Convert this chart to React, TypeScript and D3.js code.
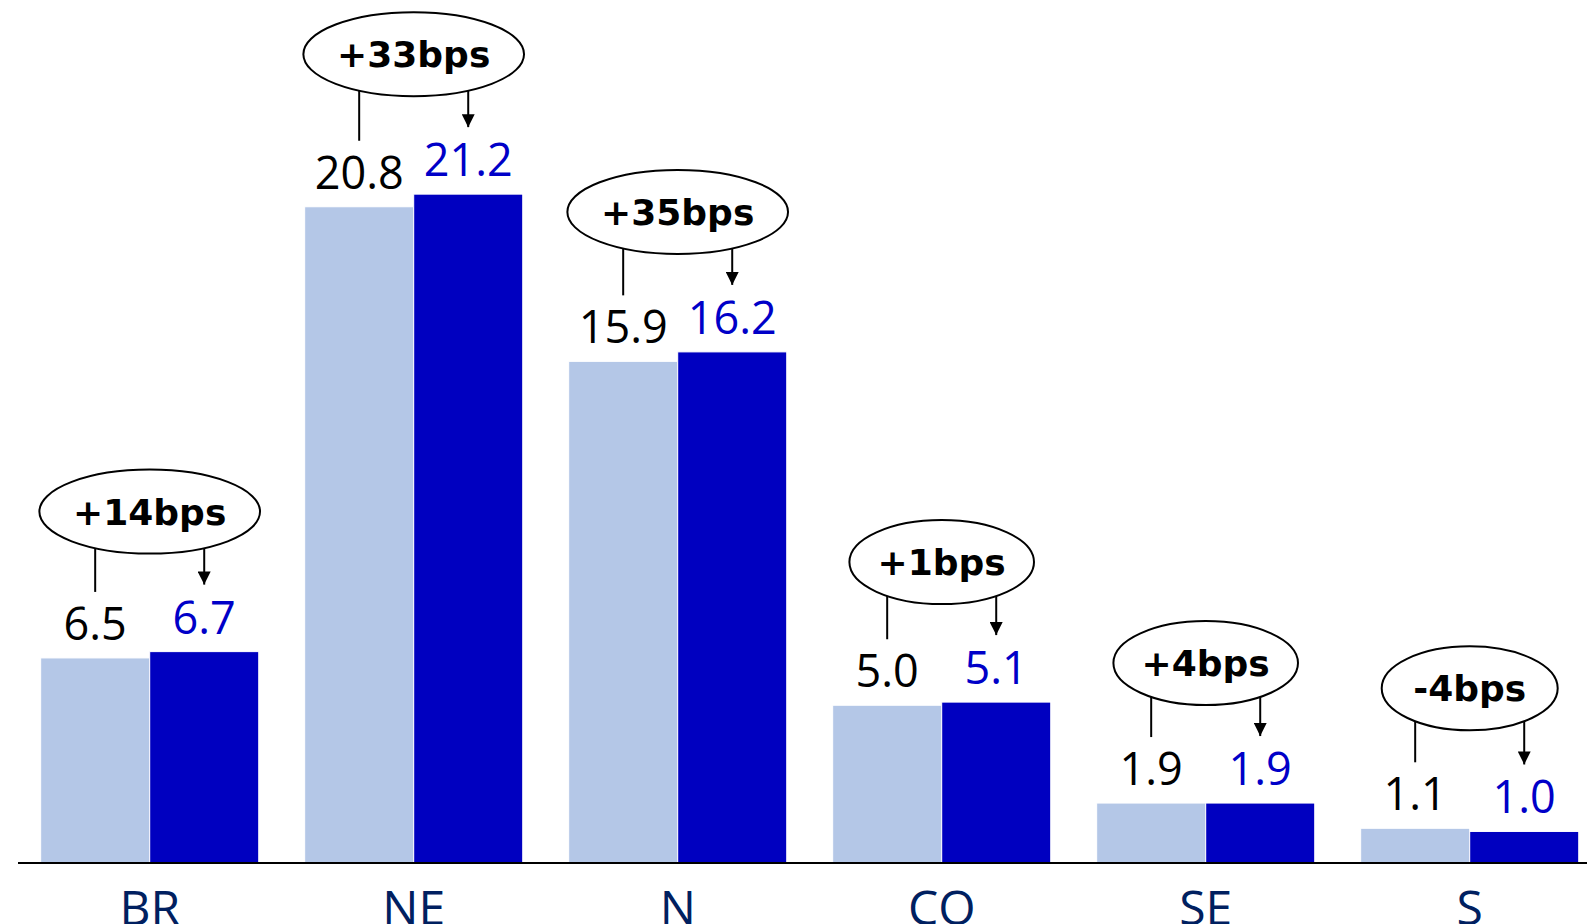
import React, { useEffect, useRef } from 'react';
import * as d3 from 'd3';

const categories = ['BR', 'NE', 'N', 'CO', 'SE', 'S'];
const previous = [6.5, 20.8, 15.9, 5.0, 1.9, 1.1];
const current = [6.7, 21.2, 16.2, 5.1, 1.9, 1.0];
const deltas = ['+14bps', '+33bps', '+35bps', '+1bps', '+4bps', '-4bps'];

const App: React.FC = () => {
  const svgRef = useRef<SVGSVGElement>(null);

  useEffect(() => {
    if (!svgRef.current) return;
    const svg = d3.select(svgRef.current);
    svg.selectAll('*').remove();

    const width = 1587;
    const height = 924;
    const baseY = 863;

    const x = d3.scaleBand<string>()
      .domain(categories)
      .range([17.7, 1601.7])
      .paddingInner(0.174)
      .paddingOuter(0.087);

    const sub = d3.scaleBand<string>()
      .domain(['prev', 'curr'])
      .range([0, x.bandwidth()]);

    const y = d3.scaleLinear()
      .domain([0, 22])
      .range([baseY, baseY - 22 * 31.55]);

    svg.attr('width', width).attr('height', height);

    const defs = svg.append('defs');
    defs.append('marker')
      .attr('id', 'arrowHead')
      .attr('viewBox', '0 0 10 10')
      .attr('refX', 10)
      .attr('refY', 5)
      .attr('markerUnits', 'userSpaceOnUse')
      .attr('markerWidth', 15)
      .attr('markerHeight', 13)
      .attr('orient', 'auto')
      .append('path')
      .attr('d', 'M0,0 L10,5 L0,10 Z')
      .attr('fill', '#000');

    const g = svg.append('g');

    categories.forEach((c, i) => {
      const x0 = x(c)!;
      const xp = x0 + sub('prev')!;
      const xc = x0 + sub('curr')!;
      const bw = sub.bandwidth();
      const yp = y(previous[i]);
      const yc = y(current[i]);

      // bars
      g.append('rect')
        .attr('x', xp).attr('y', yp)
        .attr('width', bw).attr('height', baseY - yp)
        .attr('fill', '#b4c7e7')
        .attr('stroke', '#ffffff').attr('stroke-width', 1);
      g.append('rect')
        .attr('x', xc).attr('y', yc)
        .attr('width', bw).attr('height', baseY - yc)
        .attr('fill', '#0000c0')
        .attr('stroke', '#ffffff').attr('stroke-width', 1);

      // value labels
      g.append('text')
        .attr('x', xp + bw / 2).attr('y', yp - 18)
        .attr('text-anchor', 'middle')
        .attr('font-family', '"Open Sans", sans-serif')
        .attr('font-size', '45px')
        .attr('fill', '#000')
        .text(previous[i].toFixed(1));
      g.append('text')
        .attr('x', xc + bw / 2).attr('y', yc - 18)
        .attr('text-anchor', 'middle')
        .attr('font-family', '"Open Sans", sans-serif')
        .attr('font-size', '45px')
        .attr('fill', '#0000c8')
        .text(current[i].toFixed(1));

      // delta bubble
      const cx = x0 + x.bandwidth() / 2;
      const cy = Math.min(yp, yc) - 140;
      const ry = 42;
      const bubble = g.append('g');
      const ell = bubble.append('ellipse')
        .attr('cx', cx).attr('cy', cy)
        .attr('ry', ry)
        .attr('fill', '#fff')
        .attr('stroke', '#000')
        .attr('stroke-width', 2);
      const label = bubble.append('text')
        .attr('x', cx).attr('y', cy + 13)
        .attr('text-anchor', 'middle')
        .attr('font-family', '"DejaVu Sans", sans-serif')
        .attr('font-weight', 'bold')
        .attr('font-size', '36px')
        .attr('fill', '#000')
        .text(deltas[i]);
      const tw = (label.node() as SVGTextElement).getComputedTextLength();
      const rx = Math.max(tw * 0.72, 88);
      ell.attr('rx', rx);

      const edge = (px: number) => {
        const dx = px - cx;
        return cy + ry * Math.sqrt(Math.max(0, 1 - (dx / rx) ** 2));
      };

      const lx = xp + bw / 2;
      g.append('line')
        .attr('x1', lx).attr('x2', lx)
        .attr('y1', edge(lx)).attr('y2', yp - 66)
        .attr('stroke', '#000').attr('stroke-width', 2);

      const ax = xc + bw / 2;
      g.append('line')
        .attr('x1', ax).attr('x2', ax)
        .attr('y1', edge(ax)).attr('y2', yc - 67)
        .attr('stroke', '#000').attr('stroke-width', 2)
        .attr('marker-end', 'url(#arrowHead)');

      // category label
      g.append('text')
        .attr('x', cx).attr('y', 925)
        .attr('text-anchor', 'middle')
        .attr('font-family', '"Open Sans", sans-serif')
        .attr('font-size', '48px')
        .attr('fill', '#002060')
        .text(c);
    });

    // baseline
    g.append('line')
      .attr('x1', 18).attr('x2', width)
      .attr('y1', baseY).attr('y2', baseY)
      .attr('stroke', '#000')
      .attr('stroke-width', 2);
  }, []);

  return (
    <div style={{ position: 'absolute', left: 0, top: 0, width: 1587, height: 924, overflow: 'hidden', background: '#fff' }}>
      <svg ref={svgRef} style={{ display: 'block' }}></svg>
    </div>
  );
};

export default App;
